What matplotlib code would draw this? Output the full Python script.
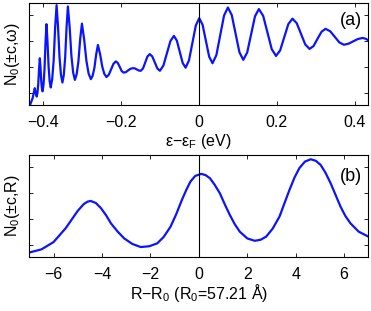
import matplotlib
matplotlib.use('Agg')
import matplotlib.pyplot as plt

plt.rcParams['font.family'] = ['Liberation Sans', 'DejaVu Sans']
plt.rcParams['mathtext.fontset'] = 'custom'
plt.rcParams['mathtext.rm'] = 'Liberation Sans'
plt.rcParams['mathtext.it'] = 'Liberation Sans'

# panel (a): N0(+-c, omega) against energy (eV)
energy = [-0.432, -0.4265, -0.421, -0.4185, -0.416, -0.414, -0.412, -0.410, -0.408,
          -0.4063, -0.4045, -0.4028, -0.401, -0.3985, -0.396, -0.3935, -0.391,
          -0.3883, -0.3855, -0.3828, -0.380, -0.3763, -0.3725, -0.3688, -0.365,
          -0.3613, -0.3575, -0.3538, -0.350, -0.3465, -0.343, -0.3395, -0.336,
          -0.3315, -0.327, -0.3225, -0.318, -0.3135, -0.309, -0.3045, -0.300,
          -0.2943, -0.2885, -0.2828, -0.277, -0.2725, -0.268, -0.2635, -0.259,
          -0.2535, -0.248, -0.2425, -0.237, -0.231, -0.225, -0.219, -0.213,
          -0.208, -0.203, -0.198, -0.193, -0.187, -0.181, -0.175, -0.169,
          -0.164, -0.159, -0.154, -0.149, -0.1433, -0.1375, -0.1318, -0.126,
          -0.1195, -0.113, -0.1065, -0.100, -0.091, -0.082, -0.073, -0.064,
          -0.0565, -0.049, -0.0415, -0.034, -0.0253, -0.0165, -0.0078, 0.001,
          0.0095, 0.018, 0.0265, 0.035, 0.0449, 0.0548, 0.0646, 0.0745,
          0.0844, 0.0943, 0.1041, 0.114, 0.124, 0.134, 0.144, 0.154,
          0.165, 0.176, 0.187, 0.198, 0.2085, 0.219, 0.2295, 0.240,
          0.251, 0.262, 0.273, 0.284, 0.2943, 0.3045, 0.3148, 0.325,
          0.3368, 0.3485, 0.3603, 0.372, 0.384, 0.396, 0.408, 0.420,
          0.428, 0.436]
n_energy = [0.58, 0.80, 1.18, 1.00, 0.86, 1.01, 1.35, 1.92, 2.33,
            1.97, 1.48, 1.19, 1.06, 1.32, 1.91, 2.92, 3.64,
            2.96, 2.01, 1.45, 1.21, 1.53, 2.25, 3.49, 4.37,
            3.54, 2.38, 1.70, 1.40, 1.69, 2.36, 3.50, 4.32,
            3.53, 2.43, 1.78, 1.50, 1.72, 2.21, 3.06, 3.66,
            3.06, 2.23, 1.74, 1.53, 1.66, 1.96, 2.47, 2.84,
            2.50, 2.02, 1.73, 1.61, 1.70, 1.91, 2.12, 2.21,
            2.15, 2.00, 1.84, 1.78, 1.80, 1.87, 1.93, 1.95,
            1.94, 1.90, 1.86, 1.85, 1.94, 2.17, 2.40, 2.49,
            2.40, 2.17, 1.94, 1.85, 2.05, 2.52, 2.99, 3.19,
            3.01, 2.58, 2.15, 1.97, 2.25, 2.92, 3.59, 3.87,
            3.62, 3.01, 2.39, 2.14, 2.45, 3.21, 3.97, 4.28,
            3.99, 3.28, 2.56, 2.27, 2.55, 3.25, 3.94, 4.22,
            3.96, 3.32, 2.68, 2.42, 2.63, 3.14, 3.64, 3.85,
            3.68, 3.27, 2.86, 2.69, 2.80, 3.08, 3.35, 3.46,
            3.37, 3.16, 2.94, 2.85, 2.89, 2.98, 3.07, 3.11,
            3.08, 3.01]

# panel (b): N0(+-c, R) against R - R0 (Angstrom)
radius = [-7.0, -6.5, -6.0, -5.5, -5.0, -4.75, -4.6, -4.47,
          -4.25, -4.04, -3.83, -3.63, -3.35, -3.08, -2.75, -2.40,
          -2.05, -1.72, -1.45, -1.17, -0.93, -0.70, -0.52, -0.35, -0.15, 0.10,
          0.28, 0.46, 0.66, 0.87, 1.07, 1.28, 1.48, 1.69, 2.0, 2.31,
          2.55, 2.78, 3.05, 3.33, 3.53, 3.74, 3.95, 4.15, 4.38, 4.62,
          4.83, 5.03, 5.23, 5.44, 5.65, 5.85, 6.05, 6.26, 6.60, 7.0]
n_radius = [0.70, 0.82, 1.10, 1.63, 2.30, 2.56, 2.65, 2.68,
            2.60, 2.40, 2.13, 1.82, 1.50, 1.24, 1.03, 0.91,
            0.94, 1.05, 1.30, 1.69, 2.18, 2.72, 3.10, 3.42, 3.64, 3.72,
            3.67, 3.55, 3.29, 2.97, 2.55, 2.14, 1.79, 1.50, 1.24, 1.15,
            1.19, 1.31, 1.62, 2.08, 2.58, 3.10, 3.58, 3.94, 4.19, 4.28,
            4.22, 4.06, 3.76, 3.36, 2.90, 2.46, 2.10, 1.82, 1.50, 1.31]

fig = plt.figure(figsize=(3.71, 3.11), dpi=100)
ax1 = fig.add_axes([0.079, 0.661, 0.914, 0.330])
ax2 = fig.add_axes([0.079, 0.173, 0.914, 0.330])

ax1.plot(energy, n_energy, color='#0a14ff', lw=1.6)
ax1.axvline(0, color='k', lw=0.8)
ax1.set_xlim(-0.435, 0.435)
ax1.set_xticks([-0.4, -0.2, 0, 0.2, 0.4])
ax1.set_xticklabels(['\u22120.4', '\u22120.2', '0', '0.2', '0.4'])
ax1.set_xlabel('\u03b5\u2212\u03b5$_\\mathregular{F}$ (eV)', fontsize=11.5, labelpad=1)
ax1.set_ylabel('N$_\\mathregular{0}$(\u00b1c,\u03c9)', fontsize=11.5, labelpad=3)
ax1.text(0.982, 0.83, '(a)', transform=ax1.transAxes, ha='right', va='center', fontsize=13)

ax2.plot(radius, n_radius, color='#0a14ff', lw=1.6)
ax2.axvline(0, color='k', lw=0.8)
ax2.set_xlim(-7, 7)
ax2.set_xticks([-6, -4, -2, 0, 2, 4, 6])
ax2.set_xticklabels(['\u22126', '\u22124', '\u22122', '0', '2', '4', '6'])
ax2.set_xlabel('R\u2212R$_\\mathregular{0}$ (R$_\\mathregular{0}$=57.21 \u00c5)', fontsize=11.5, labelpad=0)
ax2.set_ylabel('N$_\\mathregular{0}$(\u00b1c,R)', fontsize=11.5, labelpad=3)
ax2.text(0.982, 0.79, '(b)', transform=ax2.transAxes, ha='right', va='center', fontsize=13)

for ax in (ax1, ax2):
    ax.set_ylim(0.52, 4.46)
    ax.set_yticks([1, 2, 3, 4])
    ax.set_yticklabels([])
    ax.tick_params(direction='in', top=True, right=True, length=3, width=0.6,
                   labelsize=11.5)
    ax.tick_params(axis='x', pad=7)
    ax.tick_params(axis='y', pad=2)
    for s in ax.spines.values():
        s.set_linewidth(0.8)

fig.savefig('out.png', dpi=100)
